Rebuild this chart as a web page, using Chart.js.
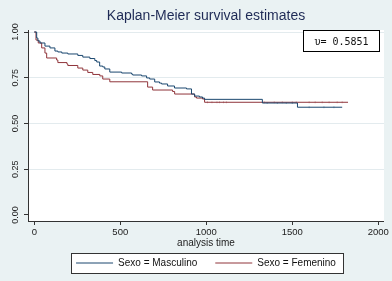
<!DOCTYPE html>
<html>
<head>
<meta charset="utf-8">
<script src="https://cdn.jsdelivr.net/npm/chart.js"></script>
<style>
  html, body { margin: 0; padding: 0; background: #eaf2f3; }
  canvas { display: block; }
</style>
</head>
<body>
<canvas id="km" width="392" height="281"></canvas>
<script>
// Kaplan-Meier steps (analysis time, S(t))
var timeMasc = [0, 14, 21, 33, 62, 91, 120, 137, 160, 195, 253, 282, 323, 352, 363, 380, 398, 410, 439, 508,
                566, 572, 624, 653, 671, 700, 728, 740, 775, 815, 885, 914, 932, 960, 978, 990, 1326, 1530, 1790];
var survMasc = [1.000, 0.967, 0.951, 0.940, 0.923, 0.913, 0.896, 0.891, 0.885, 0.880, 0.872, 0.863, 0.855, 0.844, 0.836, 0.814, 0.809, 0.798, 0.781, 0.776,
                0.770, 0.765, 0.760, 0.749, 0.743, 0.727, 0.721, 0.716, 0.705, 0.694, 0.689, 0.661, 0.650, 0.645, 0.639, 0.632, 0.612, 0.589, 0.589];

var timeFem = [0, 10, 23, 43, 62, 72, 130, 137, 190, 195, 253, 282, 311, 340, 381, 398, 439, 659, 688, 804,
               816, 932, 943, 978, 990, 1824];
var survFem = [1.000, 0.956, 0.940, 0.913, 0.885, 0.858, 0.847, 0.833, 0.825, 0.817, 0.803, 0.792, 0.779, 0.768, 0.760, 0.743, 0.728, 0.699, 0.683, 0.675,
               0.661, 0.645, 0.639, 0.634, 0.616, 0.616];

// censored observations (times only)
var censMasc = [1354, 1413, 1465, 1500, 1598, 1684, 1742];
var censFem = [1007, 1033, 1062, 1077, 1100, 1117, 1337, 1395, 1442, 1500, 1523, 1598, 1633, 1674, 1714, 1761, 1790];

var seriesLabels = ['Sexo = Masculino', 'Sexo = Femenino'];
var xTicks = [0, 500, 1000, 1500, 2000];
var yTicks = [0, 0.25, 0.5, 0.75, 1];
var pText = 'υ= 0.5851';

var navy = '#1a476f';
var maroon = '#90353b';

Chart.defaults.font.family = "'Liberation Sans', Arial, sans-serif";

function steps(times, surv) {
  return times.map(function (t, i) { return {x: t, y: surv[i]}; });
}
// value of the step curve at time t
function survAt(times, surv, t) {
  var s = surv[0];
  for (var i = 0; i < times.length; i++) {
    if (times[i] <= t) s = surv[i];
  }
  return s;
}
function censPoints(cens, times, surv) {
  return cens.map(function (t) { return {x: t, y: survAt(times, surv, t)}; });
}

var stataBg = {
  id: 'stataBg',
  beforeDraw: function (chart) {
    var ctx = chart.ctx, a = chart.chartArea;
    ctx.save();
    ctx.fillStyle = '#eaf2f3';
    ctx.fillRect(0, 0, chart.width, chart.height);
    ctx.fillStyle = '#ffffff';
    ctx.fillRect(a.left, a.top, a.right - a.left, a.bottom - a.top);
    // legend frame
    var hb = chart.legend.legendHitBoxes;
    if (hb && hb.length) {
      var first = hb[0], last = hb[hb.length - 1];
      var x0 = Math.round(first.left - 5) + 0.5;
      var x1 = Math.round(last.left + last.width + 7) + 0.5;
      var cy = first.top + first.height / 2;
      var y0 = Math.round(cy - 9.7) + 0.5, y1 = Math.round(cy + 9.7) + 0.5;
      ctx.fillStyle = '#ffffff';
      ctx.fillRect(x0, y0, x1 - x0, y1 - y0);
      ctx.strokeStyle = '#333333';
      ctx.lineWidth = 1;
      ctx.strokeRect(x0, y0, x1 - x0, y1 - y0);
    }
    ctx.restore();
  },
  afterDraw: function (chart) {
    var ctx = chart.ctx, a = chart.chartArea;
    var bx0 = Math.round(a.right - 81) + 0.5, by0 = Math.round(a.top) + 0.5;
    var bw = 76, bh = 21;
    ctx.save();
    ctx.fillStyle = '#ffffff';
    ctx.fillRect(bx0, by0, bw, bh);
    ctx.strokeStyle = '#000000';
    ctx.lineWidth = 1;
    ctx.strokeRect(bx0, by0, bw, bh);
    ctx.fillStyle = '#111111';
    ctx.font = "10px 'DejaVu Sans Mono', monospace";
    ctx.textAlign = 'center';
    ctx.textBaseline = 'middle';
    ctx.fillText(pText, bx0 + bw / 2, by0 + bh / 2 + 1);
    ctx.restore();
  }
};

new Chart(document.getElementById('km'), {
  type: 'line',
  data: {
    datasets: [{
      label: seriesLabels[0],
      data: steps(timeMasc, survMasc),
      borderColor: navy,
      backgroundColor: navy,
      borderWidth: 1,
      stepped: 'before',
      pointRadius: 0,
      pointStyle: 'line',
      fill: false
    }, {
      label: seriesLabels[1],
      data: steps(timeFem, survFem),
      borderColor: maroon,
      backgroundColor: maroon,
      borderWidth: 1,
      stepped: 'before',
      pointRadius: 0,
      pointStyle: 'line',
      fill: false
    }, {
      type: 'scatter',
      label: 'cens1',
      data: censPoints(censMasc, timeMasc, survMasc),
      pointStyle: 'line',
      rotation: 90,
      radius: 1,
      borderWidth: 1,
      borderColor: 'rgba(26,71,111,0.35)'
    }, {
      type: 'scatter',
      label: 'cens2',
      data: censPoints(censFem, timeFem, survFem),
      pointStyle: 'line',
      rotation: 90,
      radius: 1,
      borderWidth: 1,
      borderColor: 'rgba(144,53,59,0.35)'
    }]
  },
  options: {
    responsive: false,
    animation: false,
    devicePixelRatio: 1,
    layout: {padding: {left: 0, right: 7, top: 0, bottom: 3}},
    scales: {
      x: {
        type: 'linear',
        min: -36.5,
        max: 2033,
        afterBuildTicks: function (s) { s.ticks = xTicks.map(function (v) { return {value: v}; }); },
        afterFit: function (s) { s.height = 19; },
        grid: {drawOnChartArea: false, drawTicks: true, tickLength: 4, tickColor: '#333333'},
        border: {color: '#333333', width: 1},
        ticks: {
          padding: 3, color: '#222222', maxRotation: 0, autoSkip: false,
          font: {size: 9.5, lineHeight: 1},
          callback: function (v) { return String(v); }
        },
        title: {
          display: true, text: 'analysis time', color: '#222222',
          font: {size: 10, lineHeight: 1.2},
          padding: {top: 0, bottom: -9}
        }
      },
      y: {
        min: -0.0328,
        max: 1.011,
        afterBuildTicks: function (s) { s.ticks = yTicks.map(function (v) { return {value: v}; }); },
        afterFit: function (s) { s.width = 28; },
        grid: {
          color: function (c) { return c.tick && c.tick.value === 0 ? 'rgba(0,0,0,0)' : '#e3ebee'; },
          tickLength: 4, tickColor: '#333333', lineWidth: 1
        },
        border: {color: '#333333', width: 1},
        ticks: {
          minRotation: 90, maxRotation: 90, crossAlign: 'center', padding: 0,
          color: '#222222', font: {size: 9, lineHeight: 1},
          callback: function (v) { return v.toFixed(2); }
        }
      }
    },
    plugins: {
      title: {
        display: true, text: 'Kaplan-Meier survival estimates', fullSize: false,
        color: '#1e2a55', font: {size: 14, weight: 'normal', lineHeight: 1.2},
        padding: {top: 8, bottom: 5.2}
      },
      legend: {
        position: 'bottom', fullSize: false,
        labels: {
          usePointStyle: true, pointStyleWidth: 37, padding: 18,
          color: '#111111', font: {size: 10},
          filter: function (item) { return item.datasetIndex < 2; }
        }
      },
      tooltip: {enabled: false}
    }
  },
  plugins: [stataBg]
});
</script>
</body>
</html>
